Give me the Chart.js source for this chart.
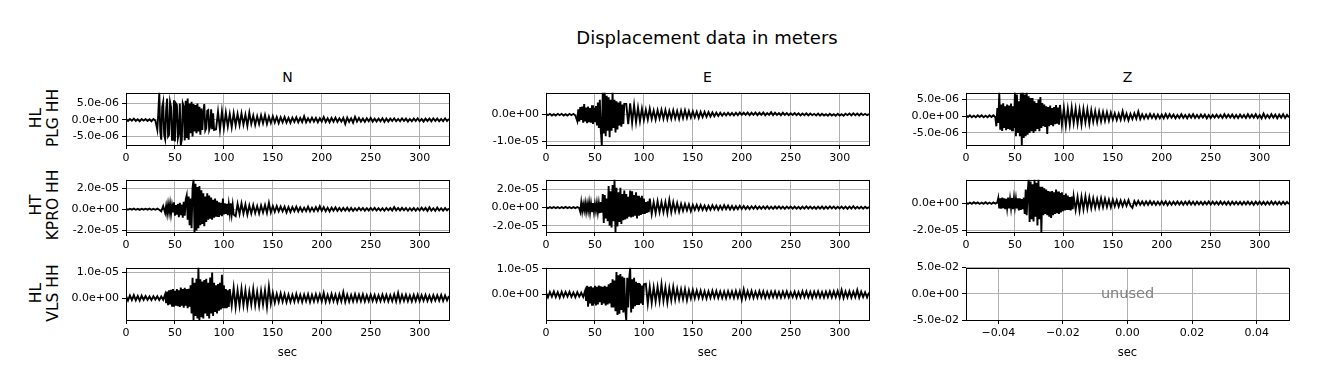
<!DOCTYPE html>
<html>
<head>
<meta charset="utf-8">
<script src="https://cdn.jsdelivr.net/npm/chart.js@4.4.1/dist/chart.umd.min.js"></script>
<style>
  body { margin: 0; background: #fff; width: 1318px; height: 389px; position: relative; overflow: hidden; font-family: "DejaVu Sans", sans-serif; }
  .txt { position: absolute; color: #000; white-space: nowrap; text-align: center; }
  canvas { position: absolute; }
</style>
</head>
<body>
<script>
// displacement, in micrometres
// coarse traces: one sample every 2 s over the whole record
// burst traces: one sample every 1 s over the strong shaking
const SAMPLE_STEP = 2;
const BURST_STEP = 1;
const MICRO = 1e-6;

const nPLG = [
  0.2,-0.3,0.3,-0.2,0.4,-0.3,0.2,-0.4,0.3,-0.2,
  0.3,-0.3,0.2,-0.4,0.3,-0.2,-3.0,8.3,-6.0,5.5,
  -5.8,6.5,-4.5,4.0,-5.0,6.0,-6.5,4.5,-7.6,5.0,
  -6.2,5.8,-5.5,6.5,-6.0,5.0,-4.0,5.5,-3.5,4.5,
  -3.0,4.8,-3.2,2.8,-3.0,3.2,-2.8,2.5,-3.0,2.6,
  -2.5,2.2,-2.0,1.8,-2.2,2.0,-1.6,1.8,-1.5,2.0,
  -1.4,1.6,-1.8,2.2,-1.2,1.3,-1.5,1.1,-1.2,1.4,
  -1.0,1.5,-1.2,1.0,-0.9,1.1,-0.8,0.9,-1.0,0.8,
  -0.7,0.9,-0.8,0.6,-0.9,0.7,-0.6,0.8,-0.7,0.6,
  -0.6,1.1,-0.7,0.5,-0.6,0.7,-0.5,0.6,-0.7,0.5,
  -0.5,0.9,-0.6,0.5,-0.7,0.6,-0.5,0.7,-0.6,0.5,
  -0.5,0.6,-1.2,0.7,-0.6,0.5,-0.8,0.9,-0.5,0.6,
  -0.5,0.4,-0.6,0.5,-0.4,0.6,-0.5,0.4,-0.5,0.4,
  -0.4,0.5,-0.6,0.4,-0.5,0.4,-0.3,0.5,-0.4,0.3,
  -0.4,0.5,-0.3,0.4,-0.5,0.3,-0.4,0.4,-0.3,0.5,
  -0.4,0.3,-0.5,0.4,-0.3,0.4,-0.4,0.5,-0.3,0.4,
  -0.4,0.3,-0.4,0.5,-0.3,0.3
];
const nPLGBurstStart = 32;
const nPLGBurst = [
  -3.0,2.0,8.3,-3.5,-6.0,4.0,5.5,-4.5,-5.8,3.0,
  6.5,-5.0,-4.5,5.5,4.0,-6.0,-5.0,6.0,-6.5,5.0,
  4.5,-5.5,-4.0,5.0,-7.6,-6.0,5.0,4.0,-6.2,5.8,
  -5.5,6.5,-6.0,5.0,-4.0,5.5,-5.0,4.8,-3.5,4.5,
  -4.0,5.0,-3.5,4.0,-4.5,3.5,-3.0,2.5,4.8,-3.2,
  -2.5,2.8,3.0,-3.0,-2.0,3.2,-2.8,2.0,-3.0
];

const ePLG = [
  0.3,-0.2,0.3,-0.3,0.2,-0.3,0.3,-0.2,0.3,-0.3,
  0.2,-0.3,0.3,-0.2,0.3,-0.3,0.2,-2.4,2.8,-2.5,
  3.9,-3.0,2.6,-3.2,3.0,-2.8,4.5,-5.0,5.5,-11.3,
  8.2,-8.0,7.0,-8.4,6.5,-7.0,5.5,8.2,-6.6,5.5,
  -5.0,4.0,-3.5,4.2,-3.0,3.5,-2.8,2.6,-2.5,2.2,
  -2.0,1.8,-1.8,2.2,-1.6,1.5,-1.8,1.6,-1.4,1.8,
  -1.5,1.7,-1.6,1.4,-1.5,1.6,-1.4,1.3,-1.6,1.5,
  -1.3,1.6,-1.2,1.3,-1.1,1.2,-1.0,1.1,-1.2,1.0,
  -0.9,1.0,-0.8,0.9,-0.7,0.8,-0.6,0.7,-0.5,0.7,
  -0.4,0.6,-0.3,0.7,-0.2,0.6,-0.3,0.7,-0.2,0.8,
  -0.1,0.7,-0.1,0.8,-0.2,0.7,-0.1,0.8,-0.2,0.7,
  -0.1,0.8,-0.2,0.6,-0.1,0.9,-0.2,0.7,-0.1,0.6,
  -0.2,0.7,-0.1,0.6,-0.2,0.5,-0.1,0.6,-0.2,0.5,
  -0.3,0.4,-0.2,0.5,-0.3,0.4,-0.2,0.3,-0.3,0.4,
  -0.4,0.3,-0.3,0.2,-0.4,0.3,-0.3,0.2,-0.4,0.3,
  -0.3,0.2,-0.4,0.3,-0.2,0.4,-0.3,0.5,-0.2,0.4,
  -0.3,0.4,-0.2,0.3,-0.2,0.2
];
const ePLGBurstStart = 32;
const ePLGBurst = [
  -2.4,2.0,-2.5,2.8,-2.0,3.0,-3.0,3.9,-2.5,2.6,
  -3.2,3.0,-2.8,2.4,-3.0,3.5,-3.5,2.5,-2.8,3.2,
  -4.0,4.5,-5.0,5.5,-6.0,-11.3,8.2,-7.0,8.2,-8.0,
  7.0,-6.0,6.5,-8.4,5.5,-6.0,8.2,-5.0,5.5,-6.6,
  5.0,-5.5,4.5,-4.0,5.0,-4.5,3.8,-3.5,4.0
];

const zPLG = [
  0.3,-0.2,0.3,-0.3,0.2,-0.3,0.3,-0.2,0.3,-0.3,
  0.2,-0.3,0.3,-0.2,0.3,-0.3,-3.0,2.5,7.1,-4.0,
  3.9,-4.4,3.5,-4.0,3.8,-4.2,7.1,-6.0,6.5,-8.6,
  7.1,-6.0,7.1,-5.5,6.0,-4.5,5.5,-5.0,4.0,-4.5,
  5.0,-3.5,3.5,-5.3,3.0,-3.2,2.8,-3.0,3.4,-2.6,
  2.5,-2.8,2.2,-2.5,2.6,-2.0,2.3,-2.2,2.0,-2.4,
  2.2,-1.8,2.0,-2.2,1.8,-1.6,1.5,-1.7,1.4,-1.5,
  1.3,-1.4,1.2,-1.3,1.1,-1.0,0.9,-1.1,0.8,-1.0,
  1.5,-0.9,0.8,-1.2,0.7,-0.8,0.9,-0.7,1.4,-0.8,
  0.6,-0.7,0.5,-0.6,0.7,-0.5,0.6,-0.7,0.5,-0.6,
  0.5,-0.6,0.7,-0.5,0.6,-0.4,0.5,-0.6,0.4,-0.5,
  0.6,-0.5,0.4,-0.6,0.5,-0.4,0.6,-0.5,0.4,-0.5,
  0.5,-0.4,0.5,-0.6,0.4,-0.5,0.4,-0.4,0.5,-0.4,
  0.4,-0.5,0.6,-0.4,0.5,-0.4,0.5,-0.5,0.4,-0.5,
  0.5,-0.4,0.4,-0.5,0.6,-0.4,0.5,-0.4,0.6,-0.5,
  0.4,-0.6,0.8,-0.5,0.4,-0.5,0.6,-0.4,0.5,-0.6,
  0.5,-0.4,0.6,-0.5,0.4,-0.3
];
const zPLGBurstStart = 31;
const zPLGBurst = [
  -3.0,2.5,-2.0,7.1,-4.0,3.5,-4.4,3.9,-3.5,3.0,
  -4.2,3.5,-3.8,3.2,-4.0,3.8,-4.2,3.0,-3.5,7.1,
  -6.0,6.5,-5.0,4.5,-6.0,7.1,-8.6,7.1,-6.5,6.5,
  -6.0,7.1,-5.5,6.0,-5.0,5.5,-4.5,5.5,-5.0,4.5,
  -4.5,4.0,-3.8,5.0,-4.5,5.8,-3.5,4.0,-3.0,3.5,
  -3.2,3.0,-5.3,2.8,-3.0,3.2,-2.6,2.5,-3.0,2.8,
  -2.4,3.4,-2.2,2.6,-2.5
];

const nKPRO = [
  0.4,-0.5,0.5,-0.4,0.6,-0.5,0.4,-0.6,0.5,-0.4,
  0.5,-0.4,0.6,-0.5,0.4,-0.5,0.6,-0.5,-2.0,3.0,
  -3.5,4.0,-4.5,5.0,-3.0,6.5,-6.0,5.0,-7.5,6.0,
  -8.0,13.0,-10.0,12.0,-15.0,28.0,-21.5,24.0,-20.0,21.0,
  -15.0,18.0,-14.0,15.0,-16.0,12.0,-10.0,13.0,-9.0,11.0,
  -8.0,10.0,-7.0,6.5,-5.5,6.0,-6.5,5.0,-4.5,5.5,
  -4.0,4.5,-5.0,3.5,-4.0,4.0,-3.5,3.0,-4.0,3.5,
  -3.0,4.0,-3.5,6.0,-3.0,3.0,-2.5,3.0,-2.0,2.5,
  -2.0,2.5,-3.0,2.0,-2.5,2.0,-1.8,2.5,-2.0,1.8,
  -2.0,1.5,-1.8,2.5,-2.0,1.5,-1.8,2.0,-1.5,2.8,
  -1.5,2.0,-1.8,1.5,-2.0,1.5,-1.3,1.8,-1.5,1.2,
  -1.5,1.3,-1.2,1.5,-1.4,1.2,-1.5,1.0,-1.2,1.4,
  -1.0,1.2,-1.3,1.0,-1.1,1.2,-1.0,1.3,-1.2,1.0,
  -1.2,1.0,-1.4,1.2,-1.0,1.1,-1.2,2.0,-1.0,1.2,
  -1.1,1.3,-1.0,1.2,-1.4,1.0,-1.1,1.2,-1.3,1.0,
  -1.2,1.5,-1.0,1.3,-1.5,1.8,-1.2,1.0,-1.4,1.6,
  -1.2,1.0,-1.3,1.1,-1.0,0.8
];
const nKPROBurstStart = 40;
const nKPROBurst = [
  -3.5,3.0,-4.0,4.5,-3.0,5.0,-4.5,3.5,-3.0,6.5,
  -6.0,4.0,-5.0,5.0,-7.5,6.0,-5.5,4.5,-8.0,7.0,
  -6.0,9.0,13.0,-10.0,12.0,-15.0,10.0,-18.0,20.0,28.0,
  -21.5,24.0,-20.0,21.0,-18.0,22.0,-15.0,18.0,-14.0,15.0,
  -16.0,12.0,-12.0,15.0,-10.0,13.0,-9.0,11.0,-10.0,9.0,
  -8.0,10.0,-7.0,8.0,-6.5,6.5,-5.5,6.0,-6.5,10.0,
  -5.0,5.5,-4.5,5.0,-5.5,4.5,-4.0,5.5,-4.5,4.0,
  -5.0
];

const eKPRO = [
  0.6,-0.7,0.5,-0.6,0.7,-0.5,0.6,-0.7,0.5,-0.6,
  0.7,-0.6,0.5,-0.7,0.6,-0.5,0.7,-0.6,-4.5,5.5,
  -4.0,5.0,-4.5,4.0,-3.5,5.5,-5.0,4.5,-6.0,15.0,
  -17.0,14.0,-12.0,24.0,-20.0,31.0,-27.0,22.0,-21.0,17.0,
  -16.0,19.0,-14.0,15.0,-12.0,19.0,-13.0,18.0,-10.0,14.0,
  -9.0,13.0,-8.0,10.0,-7.0,6.0,-6.0,7.0,-5.0,6.0,
  -5.0,6.0,-6.0,8.5,-5.0,6.0,-4.0,5.0,-4.5,4.0,
  -3.5,4.0,-3.0,3.5,-4.0,3.0,-2.5,3.0,-2.5,2.8,
  -2.5,2.2,-2.8,2.0,-2.4,2.5,-2.0,2.2,-2.5,2.0,
  -2.0,2.6,-1.8,2.2,-2.0,1.8,-2.2,1.6,-1.8,2.0,
  -1.5,1.8,-1.6,1.4,-1.7,1.5,-1.3,1.6,-1.5,1.2,
  -1.4,1.3,-1.2,1.5,-1.3,1.1,-1.4,1.2,-1.0,1.3,
  -1.2,1.0,-1.3,1.1,-1.0,1.2,-1.1,1.0,-1.2,0.9,
  -1.4,1.1,-1.2,1.3,-1.0,1.2,-1.1,0.9,-1.3,1.0,
  -1.1,1.2,-1.4,1.0,-1.1,1.3,-1.0,1.1,-1.2,1.0,
  -1.0,1.1,-1.2,1.0,-1.3,1.1,-1.0,1.5,-1.1,1.0,
  -1.0,0.9,-1.1,1.0,-0.8,0.7
];
const eKPROBurstStart = 35;
const eKPROBurst = [
  -4.5,5.5,-4.0,3.5,-3.0,5.0,-4.5,4.0,-3.5,5.5,
  -5.0,4.5,-4.0,5.0,-4.5,4.0,-3.5,5.0,-5.0,4.5,
  -6.0,6.0,-5.5,15.0,-17.0,14.0,-12.0,10.0,-15.0,24.0,
  -20.0,18.0,-22.0,25.0,-15.0,31.0,-27.0,22.0,-21.0,17.0,
  -16.0,22.0,-18.0,15.0,-14.0,19.0,-13.0,15.0,-12.0,12.0,
  -10.0,19.0,-11.0,18.0,-10.0,14.0,-9.0,17.0,-12.0,13.0,
  -9.0,11.0,-8.0,13.0,-7.0,10.0,-7.0,6.0,-6.0,7.0,
  -5.0
];

const zKPRO = [
  0.5,-0.6,0.4,-0.5,0.6,-0.4,0.5,-0.6,0.4,-0.5,
  0.6,-0.5,0.4,-0.6,0.5,-0.4,0.5,3.8,-4.0,3.5,
  -4.2,4.0,-3.8,3.5,-4.5,3.2,-3.6,4.0,-5.5,3.5,
  -8.0,10.0,-9.0,17.4,-14.0,16.0,-12.0,17.4,-21.4,12.0,
  -9.0,11.0,-8.0,10.0,-10.0,9.0,-11.0,8.5,-9.0,8.0,
  -8.0,7.5,-6.0,6.0,-5.5,5.0,-5.0,4.5,-5.5,4.8,
  -4.5,5.0,-4.0,4.2,-3.8,3.5,-3.5,3.0,-3.2,3.6,
  -3.0,3.2,-2.8,2.5,-3.0,2.6,-2.4,2.2,-2.5,2.0,
  -2.2,1.8,-2.0,2.2,-1.8,-3.5,1.5,-1.4,1.6,-1.3,
  1.2,-1.4,1.3,-1.2,1.4,-1.1,1.2,-1.3,1.0,-1.2,
  1.3,-1.1,1.2,-1.4,1.0,-1.2,1.1,-1.0,1.2,-1.1,
  1.0,-1.2,1.1,-1.0,1.3,-1.1,1.0,-1.2,1.1,-0.9,
  1.0,-1.1,0.9,-1.0,1.2,-1.0,1.1,-0.9,1.0,-1.1,
  1.2,-1.0,0.9,-1.1,1.0,-1.2,1.1,-0.9,1.0,-1.0,
  0.9,-1.1,1.0,-0.9,1.1,-1.0,0.9,-1.2,1.0,-0.9,
  1.1,-1.0,0.9,-1.1,1.0,-0.9,1.2,-1.0,0.9,-1.0,
  1.0,-0.9,1.0,-0.8,0.9,-0.7
];
const zKPROBurstStart = 33;
const zKPROBurst = [
  3.8,-4.0,3.5,-4.2,4.0,-3.8,3.5,-4.5,3.2,-3.6,
  4.0,-4.0,3.0,-3.5,3.8,-4.5,3.5,-3.0,3.2,-4.0,
  3.5,-5.5,3.5,-5.0,3.0,-4.5,4.0,-8.0,10.0,-9.0,
  8.0,17.4,-14.0,16.0,-12.0,14.0,-13.6,17.4,-10.0,15.0,
  -16.5,17.4,-12.0,12.0,-21.4,12.0,-9.0,11.0,-8.0,10.0,
  -9.0,9.0,-10.0,8.5,-11.0,9.0,-9.0,8.0,-8.0,10.0,
  -7.5,8.5,-8.0,7.5,-7.0,8.0,-6.0,6.0,-5.5,7.0,
  -5.0,5.5,-5.0,4.5,-5.5,4.8,-4.5,5.0
];

const nVLS = [
  0.8,-1.0,1.0,-0.8,1.1,-0.9,0.8,-1.0,0.9,-0.7,
  0.8,-0.7,0.6,-0.8,0.7,-0.6,0.7,-0.8,0.6,-0.7,
  1.5,-2.0,2.5,-2.8,3.0,-2.5,3.2,-3.0,3.5,-3.4,
  4.0,-3.0,3.5,-4.0,7.9,-8.6,-6.0,11.9,-8.6,7.3,
  -7.5,7.0,-6.0,7.5,-8.0,10.0,-7.0,6.0,-5.5,9.0,
  -4.0,5.0,-4.0,3.5,-3.0,4.0,-3.5,3.0,-3.0,3.6,
  -2.8,3.0,-3.2,2.5,-2.6,3.5,-2.8,2.4,-3.0,2.8,
  -2.5,3.0,-3.5,4.4,-2.2,2.0,-1.8,1.6,-1.5,1.8,
  -1.4,1.5,-1.6,1.3,-1.5,1.2,-1.4,1.6,-1.3,1.2,
  -1.5,1.3,-1.2,1.4,-1.6,1.2,-1.3,1.5,-1.2,1.4,
  -1.3,2.0,-1.5,1.2,-1.4,1.6,-1.2,1.3,-1.6,1.4,
  -1.3,2.3,-1.5,1.3,-1.4,1.2,-1.3,1.5,-1.2,1.3,
  -1.2,1.4,-1.3,1.1,-1.2,1.3,-1.1,1.2,-1.3,1.1,
  -1.2,1.3,-1.1,1.2,-1.3,1.1,-1.2,1.4,-1.3,2.0,
  -1.4,1.2,-1.1,1.3,-1.2,1.0,-1.3,1.2,-1.1,1.3,
  -1.2,1.1,-1.0,1.2,-1.1,1.0,-1.2,1.1,-1.0,1.1,
  -1.0,1.2,-1.1,1.0,-0.9,0.8
];
const nVLSBurstStart = 40;
const nVLSBurst = [
  1.5,-2.0,2.5,-2.8,3.0,-2.5,3.2,-3.0,3.5,-3.4,
  2.8,-3.0,3.5,-3.2,3.0,-3.5,4.1,-3.0,3.5,-3.8,
  4.0,-3.0,3.5,-4.0,3.6,-3.4,5.0,-6.0,7.9,-8.6,
  6.0,-7.0,7.5,-8.0,11.9,-8.6,7.3,-7.5,6.5,-8.0,
  7.0,-6.0,7.5,-7.0,6.0,-8.0,8.0,-6.0,10.0,-7.0,
  6.0,-5.5,5.0,-6.0,5.5,-5.0,6.0,-4.5,9.1,-4.0,
  5.0,-4.0,3.5,-4.0,3.0,-3.5
];

const eVLS = [
  0.9,-1.1,1.0,-0.8,1.2,-1.0,0.9,-1.2,1.1,-0.9,
  1.0,-0.8,1.1,-0.9,0.8,-1.0,0.9,-0.8,0.7,-0.9,
  1.5,-2.5,3.4,-4.7,3.0,-3.5,3.2,-4.0,2.8,-3.6,
  3.4,-4.2,3.0,-3.8,4.5,-5.0,6.0,-7.9,8.8,-7.5,
  7.5,-10.0,6.5,10.5,-7.0,6.0,-5.5,6.5,-4.5,4.0,
  -4.0,4.2,-3.5,3.0,-3.2,2.8,-2.6,3.0,-2.5,4.0,
  -2.4,2.8,-3.0,2.5,-2.2,3.0,-2.0,2.2,-1.8,2.0,
  -1.8,2.1,-2.2,1.6,-1.5,1.8,-1.4,1.6,-1.3,1.5,
  -1.4,1.3,-1.5,1.2,-1.3,1.5,-1.2,1.4,-1.3,1.2,
  -1.3,1.2,-1.4,1.3,-1.1,1.2,-1.3,1.4,-1.2,1.3,
  -2.0,2.0,-1.4,1.3,-1.2,1.4,-1.3,1.1,-1.2,1.3,
  -1.1,1.2,-1.3,1.0,-1.2,1.1,-1.0,1.2,-1.1,1.0,
  -1.2,1.1,-1.0,1.2,-1.1,0.9,-1.0,1.1,-1.2,1.0,
  -1.1,1.3,-1.0,1.2,-1.1,1.0,-1.3,1.1,-1.0,1.2,
  -1.1,1.0,-1.2,1.1,-1.0,1.2,-1.1,1.3,-1.0,1.4,
  -1.2,1.8,-1.3,1.2,-1.1,1.3,-1.2,1.1,-1.0,1.8,
  -1.2,1.1,-1.0,0.9,-1.1,0.8
];
const eVLSBurstStart = 40;
const eVLSBurst = [
  1.5,-2.5,3.4,-4.7,3.0,-3.5,3.2,-4.0,2.8,-3.6,
  3.4,-4.2,3.0,-3.8,3.5,-3.0,3.2,-4.0,3.0,-3.5,
  3.4,-4.2,3.0,-3.8,4.0,-3.5,4.5,-5.0,6.0,-5.0,
  5.5,-6.5,8.8,-7.9,7.5,-7.5,8.0,-6.0,7.0,-7.0,
  6.5,-6.0,-10.0,6.5,-5.0,6.0,10.5,-7.0,6.0,-5.5,
  6.5,-4.5,5.0,-4.0,4.5,-4.0,4.2,-3.5,3.5,-4.0,
  4.0
];

// axis limits and labelled ticks, in micrometres
const nPLGRange = [-7.6, 8.3],   nPLGTicks = [-5, 0, 5];
const ePLGRange = [-11.3, 8.2],  ePLGTicks = [-10, 0];
const zPLGRange = [-8.6, 7.1],   zPLGTicks = [-5, 0, 5];
const nKPRORange = [-21.5, 28],  nKPROTicks = [-20, 0, 20];
const eKPRORange = [-27, 31],    eKPROTicks = [-20, 0, 20];
const zKPRORange = [-21.4, 17.4], zKPROTicks = [-20, 0];
const nVLSRange = [-8.6, 11.9],  nVLSTicks = [0, 10];
const eVLSRange = [-9.9, 10.5],  eVLSTicks = [0, 10];

const timeRange = [0, 330];
const timeTicks = [0, 50, 100, 150, 200, 250, 300];
const unusedRange = [-0.05, 0.05];
const unusedXTicks = [-0.04, -0.02, 0, 0.02, 0.04];
const unusedYTicks = [-0.05, 0, 0.05];

const components = ['N', 'E', 'Z'];
const stations = [['HL', 'PLG HH'], ['HT', 'KPRO HH'], ['HL', 'VLS HH']];

// layout of the 3x3 grid (px)
const COL_LEFT = [126, 546, 966];
const ROW_TOP = [91, 178, 266];
const PLOT_W = 323, PLOT_H = 54;
const YW = 110, RP = 8, TP = 8, XH = 40;
const FONT = 'DejaVu Sans';

// coarse samples outside the burst window, fine samples inside it
function tracePoints(coarse, burstStart, burst) {
  const burstEnd = burstStart + (burst.length - 1) * BURST_STEP;
  const before = [], after = [];
  coarse.forEach((v, i) => {
    const t = i * SAMPLE_STEP;
    if (t < burstStart) before.push({ x: t, y: v });
    else if (t > burstEnd) after.push({ x: t, y: v });
  });
  const mid = burst.map((v, i) => ({ x: burstStart + i * BURST_STEP, y: v }));
  return before.concat(mid, after);
}

function sci(v) {
  if (v === 0) return '0.0e+00';
  const parts = v.toExponential(1).split('e');
  const n = parseInt(parts[1], 10);
  return parts[0] + 'e' + (n < 0 ? '-' : '+') + String(Math.abs(n)).padStart(2, '0');
}

function addText(html, x, y, size, rotate) {
  const d = document.createElement('div');
  d.className = 'txt';
  d.innerHTML = html;
  d.style.left = x + 'px';
  d.style.top = y + 'px';
  d.style.fontSize = size + 'px';
  d.style.lineHeight = Math.round(size * 1.1) + 'px';
  d.style.transform = 'translate(-50%,-50%)' + (rotate ? ' rotate(-90deg)' : '');
  document.body.appendChild(d);
}

const framePlugin = {
  id: 'frame',
  afterDatasetsDraw(chart) {
    const { ctx, chartArea: a } = chart;
    ctx.save();
    ctx.strokeStyle = '#000';
    ctx.lineWidth = 1;
    ctx.strokeRect(Math.round(a.left) + 0.5, Math.round(a.top) + 0.5,
      Math.round(a.right - a.left), Math.round(a.bottom - a.top));
    ctx.restore();
  }
};

const unusedPlugin = {
  id: 'unusedLabel',
  afterDraw(chart) {
    const { ctx, scales } = chart;
    ctx.save();
    ctx.fillStyle = '#808080';
    ctx.font = '14.5px "' + FONT + '"';
    ctx.textAlign = 'center';
    ctx.textBaseline = 'middle';
    ctx.fillText('unused', scales.x.getPixelForValue(0), scales.y.getPixelForValue(0));
    ctx.restore();
  }
};

function makePanel(row, col, points, yRange, yTicks, unused) {
  const canvas = document.createElement('canvas');
  const w = YW + PLOT_W + RP, h = TP + PLOT_H + XH;
  canvas.width = w; canvas.height = h;
  canvas.style.width = w + 'px'; canvas.style.height = h + 'px';
  canvas.style.left = (COL_LEFT[col] - YW) + 'px';
  canvas.style.top = (ROW_TOP[row] - TP) + 'px';
  document.body.appendChild(canvas);

  const tickFont = { family: FONT, size: 11 };
  const gridOpts = { color: '#b0b0b0', lineWidth: 1, tickColor: '#000', tickLength: 4, tickWidth: 1 };
  const xr = unused ? unusedRange : timeRange;
  const xt = unused ? unusedXTicks : timeTicks;
  const unit = unused ? 1 : MICRO;

  new Chart(canvas, {
    type: 'line',
    data: {
      datasets: unused ? [] : [{
        data: points,
        borderColor: '#000',
        borderWidth: 1.9,
        pointRadius: 0,
        tension: 0
      }]
    },
    options: {
      responsive: false,
      animation: false,
      events: [],
      layout: { padding: { top: TP, right: RP, left: 0, bottom: 0 } },
      plugins: { legend: { display: false }, tooltip: { enabled: false } },
      scales: {
        x: {
          type: 'linear', min: xr[0], max: xr[1],
          afterBuildTicks: a => { a.ticks = xt.map(v => ({ value: v })); },
          afterFit: s => { s.height = XH; },
          grid: gridOpts,
          border: { display: false },
          ticks: {
            font: tickFont, color: '#000', padding: 3, maxRotation: 0, autoSkip: false,
            callback: v => unused ? (v < 0 ? '\u2212' + Math.abs(v).toFixed(2) : v.toFixed(2)) : String(v)
          },
          title: { display: row === 2, text: 'sec', color: '#000', font: { family: FONT, size: 11.5 }, padding: 0 }
        },
        y: {
          type: 'linear', min: yRange[0], max: yRange[1],
          afterBuildTicks: a => { a.ticks = yTicks.map(v => ({ value: v })); },
          afterFit: s => { s.width = YW; },
          grid: gridOpts,
          border: { display: false },
          ticks: { font: tickFont, color: '#000', padding: 3, autoSkip: false, callback: v => sci(v * unit) }
        }
      }
    },
    plugins: unused ? [framePlugin, unusedPlugin] : [framePlugin]
  });
}

addText('Displacement data in meters', 707, 38, 18);
components.forEach((c, i) => addText(c, COL_LEFT[i] + PLOT_W / 2, 77, 14));
stations.forEach((s, r) => addText(s[0] + '<br>' + s[1], 45, ROW_TOP[r] + PLOT_H / 2, 15.5, true));

makePanel(0, 0, tracePoints(nPLG, nPLGBurstStart, nPLGBurst), nPLGRange, nPLGTicks);
makePanel(0, 1, tracePoints(ePLG, ePLGBurstStart, ePLGBurst), ePLGRange, ePLGTicks);
makePanel(0, 2, tracePoints(zPLG, zPLGBurstStart, zPLGBurst), zPLGRange, zPLGTicks);
makePanel(1, 0, tracePoints(nKPRO, nKPROBurstStart, nKPROBurst), nKPRORange, nKPROTicks);
makePanel(1, 1, tracePoints(eKPRO, eKPROBurstStart, eKPROBurst), eKPRORange, eKPROTicks);
makePanel(1, 2, tracePoints(zKPRO, zKPROBurstStart, zKPROBurst), zKPRORange, zKPROTicks);
makePanel(2, 0, tracePoints(nVLS, nVLSBurstStart, nVLSBurst), nVLSRange, nVLSTicks);
makePanel(2, 1, tracePoints(eVLS, eVLSBurstStart, eVLSBurst), eVLSRange, eVLSTicks);
makePanel(2, 2, [], unusedRange, unusedYTicks, true);
</script>
</body>
</html>
